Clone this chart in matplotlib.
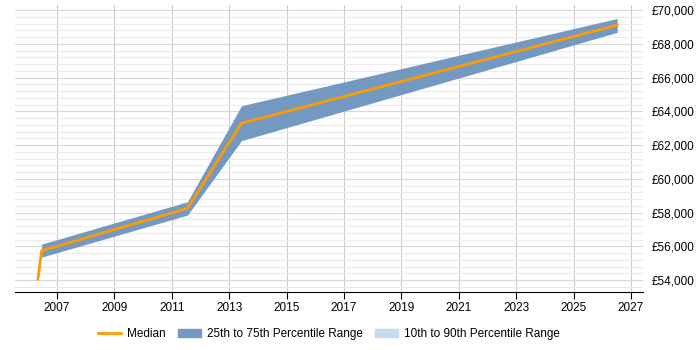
import matplotlib.pyplot as plt
from matplotlib.ticker import MultipleLocator, FuncFormatter
from matplotlib.patches import Patch
from matplotlib.lines import Line2D

plt.rcParams['font.family'] = ['Liberation Sans', 'DejaVu Sans']

# decimal years
years = [2006.34, 2006.47, 2011.55, 2013.43, 2026.52]
median = [54060, 55740, 58250, 63290, 69110]
p25 = [None, 55360, 57850, 62260, 68680]
p75 = [None, 56130, 58640, 64330, 69500]

band_color = '#7399c2'
light_band = '#c6d9ef'
median_color = '#ff9900'

fig = plt.figure(figsize=(7, 3.5), dpi=100)
ax = fig.add_axes([0.0214, 0.1657, 0.8972, 0.82])

ax.fill_between(years[1:], p25[1:], p75[1:], color=band_color, lw=0)
ax.plot(years, median, color=median_color, lw=2)

ax.set_xlim(2005.54, 2027.42)
ax.set_ylim(53290, 70300)
ax.xaxis.set_major_locator(MultipleLocator(2, offset=1))
ax.yaxis.set_major_locator(MultipleLocator(2000))
ax.yaxis.set_minor_locator(MultipleLocator(400))
ax.yaxis.set_major_formatter(FuncFormatter(lambda v, p: f'£{v:,.0f}'))
ax.yaxis.tick_right()

ax.grid(which='major', axis='x', color='#cccccc', lw=0.8)
ax.grid(which='major', axis='y', color='#d8d8d8', lw=0.8)
ax.grid(which='minor', axis='y', color='#ececec', lw=0.8)
ax.set_axisbelow(True)

for s in ['top', 'left', 'right']:
    ax.spines[s].set_visible(False)
ax.spines['bottom'].set_color('black')
ax.tick_params(axis='x', length=5, color='black', labelsize=8.5, pad=2)
ax.tick_params(axis='y', which='both', length=0, labelsize=8.5, pad=6)

handles = [Line2D([], [], color=median_color, lw=2),
           Patch(color=band_color), Patch(color=light_band)]
labels = ['Median', '25th to 75th Percentile Range', '10th to 90th Percentile Range']
fig.legend(handles, labels, loc='center', bbox_to_anchor=(0.47, 0.045), ncol=3,
           frameon=False, fontsize=8.5, handlelength=2.0, handletextpad=0.5,
           columnspacing=1.0)

fig.savefig('out.png')
